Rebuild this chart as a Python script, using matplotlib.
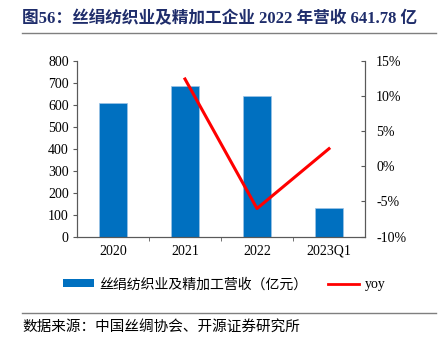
import numpy as np
import matplotlib
matplotlib.use('Agg')
import matplotlib.pyplot as plt
from matplotlib.lines import Line2D
from matplotlib.patches import Patch
from matplotlib.ticker import FuncFormatter

plt.rcParams['font.family'] = ['Liberation Serif', 'Noto Sans CJK SC']

categories = ['2020', '2021', '2022', '2023Q1']
revenue = [607, 683, 641.78, 129]          # 亿元
yoy = [None, 12.4, -6.0, 2.5]              # %

title = '图56：丝绢纺织业及精加工企业 2022 年营收 641.78 亿'
source = '数据来源：中国丝绸协会、开源证券研究所'
bar_label = '丝绢纺织业及精加工营收（亿元）'
line_label = 'yoy'

bar_color = '#0070C0'
line_color = '#FF0000'

fig = plt.figure(figsize=(4.4, 3.42), dpi=100)
ax1 = fig.add_axes([0.175, 0.308, 0.6545, 0.5145])
ax2 = ax1.twinx()

x = np.arange(len(categories))
ax1.bar(x, revenue, width=0.4, color=bar_color, edgecolor='#9DC3E6', linewidth=0.5)
ax1.set_xlim(-0.5, len(categories) - 0.5)
ax1.set_ylim(0, 800)
ax1.set_yticks(np.arange(0, 801, 100))
ax1.set_xticks(x)
ax1.set_xticklabels(categories, fontsize=10)
ax1.set_xticks(x[:-1] + 0.5, minor=True)
ax1.tick_params(axis='x', which='major', length=0, pad=6)
ax1.tick_params(axis='x', which='minor', length=3, direction='out', color='#595959')
ax1.tick_params(axis='y', labelsize=10, length=3, direction='out', color='#595959', pad=3)

yx = [i for i, v in zip(x, yoy) if v is not None]
yv = [v for v in yoy if v is not None]
ax2.plot(yx, yv, color=line_color, lw=2.2)
ax2.set_ylim(-10, 15)
ax2.set_yticks(np.arange(-10, 16, 5))
ax2.yaxis.set_major_formatter(FuncFormatter(lambda v, p: f'{v:.0f}%'))
ax2.tick_params(axis='y', labelsize=10, length=3, direction='in', color='#595959', pad=8)

for ax in (ax1, ax2):
    ax.spines['top'].set_visible(False)
    for s in ('left', 'right', 'bottom'):
        ax.spines[s].set_color('#595959')
        ax.spines[s].set_linewidth(0.8)

# title and rules
fig.text(0.05, 0.945, title, fontsize=12, fontweight='bold', color='#1F2D6B',
         va='center', ha='left')
fig.add_artist(Line2D([0.05, 0.99], [0.903, 0.903], color='#7F7F7F', lw=1))
fig.add_artist(Line2D([0.05, 0.99], [0.085, 0.085], color='#7F7F7F', lw=1))
fig.text(0.05, 0.045, source, fontsize=10.5, color='#000000', va='center', ha='left')

handles = [Patch(facecolor=bar_color, edgecolor='none'),
           Line2D([0], [0], color=line_color, lw=2)]
fig.legend(handles, [bar_label, line_label], loc='center', ncol=2,
           bbox_to_anchor=(0.51, 0.168), frameon=False, fontsize=10,
           handlelength=2.2, handleheight=0.5, columnspacing=1.5, handletextpad=0.4)

fig.savefig('out.png', dpi=100)
